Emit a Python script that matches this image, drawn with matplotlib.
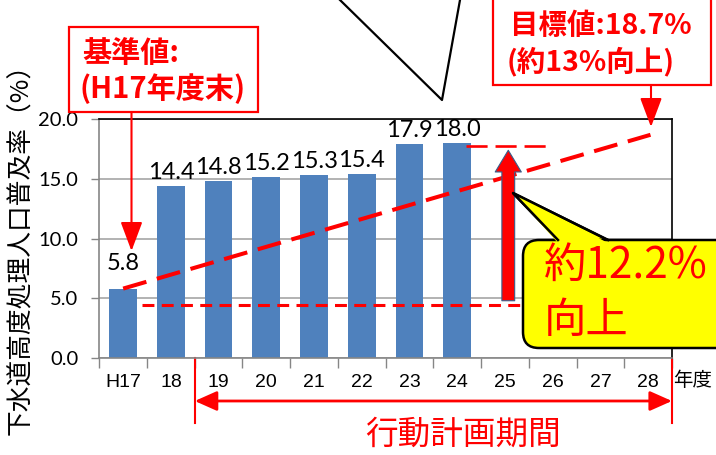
import matplotlib.pyplot as plt
from matplotlib.patches import FancyBboxPatch, Polygon, Rectangle

# 下水道高度処理人口普及率の推移（H17〜H24実績、H28目標）
years = ['H17', '18', '19', '20', '21', '22', '23', '24', '25', '26', '27', '28']
rates = [5.8, 14.4, 14.8, 15.2, 15.3, 15.4, 17.9, 18.0]
target = 18.7
target_idx = 11
rise = round(rates[-1] - rates[0], 1)

plt.rcParams['font.family'] = ['Lato', 'Noto Sans CJK JP']
JP = ['Noto Sans CJK JP', 'DejaVu Sans']
RED = '#ff0000'

fig = plt.figure(figsize=(7.16, 4.55), dpi=100)
ax = fig.add_axes([0.1387, 0.2138, 0.7998, 0.524])

ax.bar(range(len(rates)), rates, width=0.58, color='#4f81bd', zorder=2)
for i, v in enumerate(rates):
    off = 1.2 if i == 0 else 0.25
    ax.text(i, v + off, f'{v:.1f}', ha='center', va='bottom', fontsize=17)

ax.set_xlim(-0.5, len(years) - 0.5)
ax.set_ylim(0, 20)
ax.set_xticks(range(len(years)))
ax.set_xticklabels(years, family=['Liberation Sans', 'DejaVu Sans'])
ax.set_xticks([i - 0.5 for i in range(len(years) + 1)], minor=True)
ax.tick_params(axis='x', which='major', length=0, pad=12, labelsize=14)
ax.tick_params(axis='x', which='minor', length=7, color='#868686', width=1)
ax.set_yticks([0, 5, 10, 15, 20])
ax.yaxis.set_major_formatter('{x:.1f}')
ax.tick_params(axis='y', length=6, color='#868686', width=1, labelsize=14.5, pad=9)
ax.grid(axis='y', color='#a6a6a6', lw=1.2, zorder=0)
for s in ['left', 'bottom']:
    ax.spines[s].set_color('#868686')
    ax.spines[s].set_linewidth(1.2)
for s in ['top', 'right']:
    ax.spines[s].set_color('black')
    ax.spines[s].set_linewidth(1.2)

# 基準値から目標値への線
ax.plot([0, target_idx + 0.05], [rates[0], target], color=RED, lw=2.9,
        dashes=(6, 2.7), zorder=4, clip_on=False)
# 補助の破線
ax.plot([0.4, 8.9], [4.4, 4.4], color=RED, lw=2.2, dashes=(3.9, 2.4), zorder=4)
ax.plot([7.19, 8.95], [17.78, 17.78], color=RED, lw=1.9, dashes=(8, 3), zorder=4)

# 向上幅の矢印
ax.annotate('', xy=(8.07, 17.4), xytext=(8.07, 4.78),
            arrowprops=dict(arrowstyle='simple,head_length=0.78,head_width=0.94,tail_width=0.46',
                            mutation_scale=20, fc=RED, ec='#385d8a', lw=0.8,
                            shrinkA=0, shrinkB=0), zorder=5)

# 行動計画期間
ax.plot([1.5, 1.5], [0, -5.5], color=RED, lw=1.5, clip_on=False)
ax.plot([11.5, 11.5], [0, -5.5], color=RED, lw=1.5, clip_on=False)
ax.annotate('', xy=(1.5, -3.63), xytext=(11.5, -3.63), annotation_clip=False,
            arrowprops=dict(arrowstyle='<|-|>,head_length=0.9,head_width=0.4',
                            mutation_scale=15, color=RED, lw=2, shrinkA=0, shrinkB=0))

# 図全体のピクセル座標で描く注記
ov = fig.add_axes([0, 0, 1, 1], zorder=10)
ov.set_xlim(0, 716)
ov.set_ylim(455, 0)
ov.axis('off')
ov.patch.set_alpha(0)

ov.text(21, 243, '下水道高度処理人口普及率（%）', rotation=90, ha='center', va='center',
        fontsize=18.5, family=JP)
ov.text(673, 380, '年度', ha='left', va='center', fontsize=14, family=JP)
ov.text(463, 435, '行動計画期間', ha='center', va='center', fontsize=23.5,
        color=RED, family=JP)

# 吹き出し
tip = (513, 193)
base_l, base_r = (558, 240), (608, 240)
ov.add_patch(Polygon([tip, base_l, base_r], closed=True, fc='#ffff00', ec='black', lw=1.8))
ov.add_patch(FancyBboxPatch((523, 240), 230, 108, boxstyle='round,pad=0,rounding_size=16',
                            fc='#ffff00', ec='black', lw=1.8))
ov.add_patch(Polygon([tip, (base_l[0], base_l[1] + 3), (base_r[0], base_r[1] + 3)],
                     closed=True, fc='#ffff00', ec='none'))
ov.plot([base_l[0], tip[0], base_r[0]], [base_l[1], tip[1], base_r[1]], color='black', lw=1.8)
ov.text(544, 266, f'約{rise}%', ha='left', va='center', fontsize=30.5, color=RED, family=JP)
ov.text(544, 321, '向上', ha='left', va='center', fontsize=30.5, color=RED, family=JP)

# 基準値の枠
ov.add_patch(Rectangle((68.5, 27), 189, 85, fill=False, ec=RED, lw=1.6))
ov.text(82, 53, '基準値:', ha='left', va='center', fontsize=21, weight='bold',
        color=RED, family=JP)
ov.text(80, 89, '(H17年度末)', ha='left', va='center', fontsize=21, weight='bold',
        color=RED, family=JP)
ov.annotate('', xy=(131.5, 251), xytext=(131.5, 112),
            arrowprops=dict(arrowstyle='-|>,head_length=1.2,head_width=0.45',
                            mutation_scale=15, color=RED, lw=1.5, shrinkA=0, shrinkB=0))

# 目標値の枠
ov.add_patch(Rectangle((493, -5), 217.5, 90, fill=False, ec=RED, lw=1.6))
ov.text(601, 26, f'目標値:{target}%', ha='center', va='center', fontsize=20.5,
        weight='bold', color=RED, family=JP)
ov.text(591, 61, '(約13%向上)', ha='center', va='center', fontsize=20.5,
        weight='bold', color=RED, family=JP)
ov.annotate('', xy=(651, 127), xytext=(651, 85),
            arrowprops=dict(arrowstyle='-|>,head_length=1.2,head_width=0.45',
                            mutation_scale=15, color=RED, lw=1.5, shrinkA=0, shrinkB=0))

# 上部の引き出し線
ov.plot([340, 442, 460], [0, 100, 0], color='black', lw=1.6)

fig.savefig('out.png', dpi=100)
